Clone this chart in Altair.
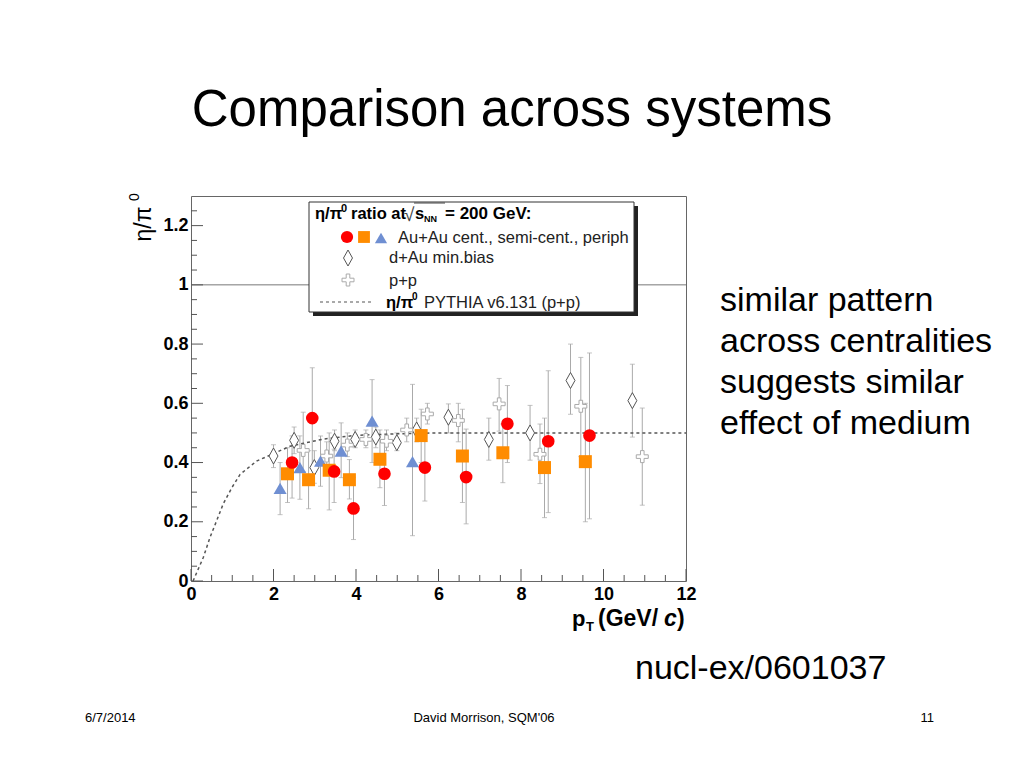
import altair as alt
import pandas as pd

# ---------------- data ----------------
# Au+Au central (red circles)
cent_x  = [2.45, 2.94, 3.47, 3.94, 4.69, 5.67, 6.67, 7.67, 8.66, 9.66]
cent_y  = [0.40, 0.55, 0.37, 0.245, 0.362, 0.383, 0.351, 0.531, 0.472, 0.491]
cent_lo = [0.28, 0.38, 0.265, 0.14, 0.255, 0.27, 0.193, 0.40, 0.231, 0.21]
cent_hi = [0.49, 0.72, 0.445, 0.35, 0.47, 0.50, 0.513, 0.66, 0.71, 0.77]

# Au+Au semi-central (orange squares)
semi_x  = [2.34, 2.85, 3.35, 3.84, 4.58, 5.58, 6.58, 7.56, 8.57, 9.56]
semi_y  = [0.362, 0.342, 0.374, 0.342, 0.411, 0.491, 0.422, 0.433, 0.383, 0.403]
semi_lo = [0.265, 0.244, 0.24, 0.277, 0.315, 0.40, 0.265, 0.332, 0.214, 0.20]
semi_hi = [0.45, 0.44, 0.50, 0.41, 0.51, 0.58, 0.58, 0.53, 0.55, 0.60]

# Au+Au peripheral (blue triangles)
peri_x  = [2.16, 2.64, 3.14, 3.64, 4.39, 5.37]
peri_y  = [0.313, 0.383, 0.405, 0.439, 0.54, 0.403]
peri_lo = [0.224, 0.276, 0.32, 0.349, 0.40, 0.153]
peri_hi = [0.40, 0.49, 0.49, 0.534, 0.68, 0.664]

# d+Au min.bias (open diamonds)
dau_x  = [2.0, 2.5, 2.99, 3.48, 3.98, 4.48, 4.99, 5.47, 6.24, 7.22, 8.22, 9.2, 10.7]
dau_y  = [0.422, 0.475, 0.383, 0.472, 0.478, 0.486, 0.467, 0.51, 0.553, 0.478, 0.50, 0.677, 0.609]
dau_lo = [0.383, 0.43, 0.33, 0.44, 0.45, 0.45, 0.44, 0.47, 0.50, 0.408, 0.408, 0.563, 0.486]
dau_hi = [0.46, 0.52, 0.44, 0.51, 0.51, 0.52, 0.50, 0.55, 0.598, 0.55, 0.593, 0.80, 0.732]

# p+p (open crosses)
pp_x  = [2.72, 3.29, 3.79, 4.24, 4.74, 5.23, 5.73, 6.48, 7.47, 8.46, 9.45, 10.94]
pp_y  = [0.441, 0.422, 0.459, 0.478, 0.472, 0.51, 0.564, 0.542, 0.598, 0.428, 0.59, 0.42]
pp_lo = [0.37, 0.37, 0.42, 0.45, 0.44, 0.47, 0.53, 0.47, 0.506, 0.329, 0.42, 0.256]
pp_hi = [0.57, 0.47, 0.50, 0.51, 0.51, 0.55, 0.60, 0.60, 0.684, 0.53, 0.755, 0.584]

# PYTHIA curve (dashed)
py_x = [0.05, 0.3, 0.46, 0.62, 0.78, 0.99, 1.19, 1.59, 2.0, 2.4, 3.2, 4.0, 5.0, 6.0, 8.0, 10.0, 12.0]
py_y = [0.0, 0.08, 0.147, 0.203, 0.26, 0.315, 0.36, 0.405, 0.43, 0.455, 0.479, 0.492, 0.497, 0.5, 0.5, 0.5, 0.5]

x_major = [0, 2, 4, 6, 8, 10, 12]
x_minor = [0.5, 1, 1.5, 2.5, 3, 3.5, 4.5, 5, 5.5, 6.5, 7, 7.5, 8.5, 9, 9.5, 10.5, 11, 11.5]
y_major = [0, 0.2, 0.4, 0.6, 0.8, 1.0, 1.2]
y_minor = [0.05, 0.1, 0.15, 0.25, 0.3, 0.35, 0.45, 0.5, 0.55, 0.65, 0.7, 0.75,
           0.85, 0.9, 0.95, 1.05, 1.1, 1.15, 1.25]
ref_line = [1.0]

# ---------------- layout ----------------
FONT = "Liberation Sans"
OX, OY = 191, 196          # page position of plot origin
W, H = 495, 385

RED, ORANGE, BLUE = "#ff0000", "#ff8c00", "#6f8fd2"
DIAMOND = "M0,-1L0.56,0L0,1L-0.56,0Z"
CROSS = "M-0.3,-1H0.3V-0.3H1V0.3H0.3V1H-0.3V0.3H-1V-0.3H-0.3Z"

xs = alt.Scale(domain=[0, 12], nice=False, zero=False)
ys = alt.Scale(domain=[0, 1.3], nice=False, zero=False)


def frame(xv, yv, lo, hi):
    return pd.DataFrame({"x": xv, "y": yv, "lo": lo, "hi": hi})


series = [frame(cent_x, cent_y, cent_lo, cent_hi),
          frame(semi_x, semi_y, semi_lo, semi_hi),
          frame(peri_x, peri_y, peri_lo, peri_hi),
          frame(dau_x, dau_y, dau_lo, dau_hi),
          frame(pp_x, pp_y, pp_lo, pp_hi)]
allerr = pd.concat(series, ignore_index=True)

dummy = pd.DataFrame({"a": [0]})

layers = []

# axes (labels only) - first layer carries the axes
layers.append(alt.Chart(dummy).mark_point(opacity=0).encode(
    x=alt.X("a:Q", scale=xs, axis=alt.Axis(values=x_major, format="~g", tickSize=0, domain=False,
                                            grid=False, title=None, labelFont=FONT, labelFontSize=18,
                                            labelFontWeight="bold", labelColor="black", labelPadding=4,
                                            labelFlush=False)),
    y=alt.Y("a:Q", scale=ys, axis=alt.Axis(values=y_major, format="~g", tickSize=0, domain=False,
                                            grid=False, title=None, labelFont=FONT, labelFontSize=18,
                                            labelFontWeight="bold", labelColor="black", labelPadding=3))))

# y = 1 reference line
layers.append(alt.Chart(pd.DataFrame({"v": ref_line})).mark_rule(color="#777", strokeWidth=1).encode(
    y=alt.Y("v:Q", scale=ys)))

# ticks (inside the frame)
def xticks(vals, length):
    return alt.Chart(pd.DataFrame({"v": vals})).mark_rule(color="#555", strokeWidth=1).encode(
        x=alt.X("v:Q", scale=xs), y=alt.value(H), y2=alt.value(H - length))

def yticks(vals, length):
    return alt.Chart(pd.DataFrame({"v": vals})).mark_rule(color="#555", strokeWidth=1).encode(
        y=alt.Y("v:Q", scale=ys), x=alt.value(0), x2=alt.value(length))

layers += [xticks(x_major, 12), xticks(x_minor, 6), yticks(y_major, 12), yticks(y_minor, 6)]

# error bars
err_base = alt.Chart(allerr)
layers.append(err_base.mark_rule(color="#aaaaaa", strokeWidth=1).encode(
    x=alt.X("x:Q", scale=xs), y=alt.Y("lo:Q", scale=ys), y2="hi:Q"))
layers.append(err_base.mark_tick(color="#aaaaaa", orient="horizontal", size=5, thickness=1).encode(
    x=alt.X("x:Q", scale=xs), y=alt.Y("lo:Q", scale=ys)))
layers.append(err_base.mark_tick(color="#aaaaaa", orient="horizontal", size=5, thickness=1).encode(
    x=alt.X("x:Q", scale=xs), y=alt.Y("hi:Q", scale=ys)))

# PYTHIA curve
layers.append(alt.Chart(pd.DataFrame({"x": py_x, "y": py_y})).mark_line(
    color="#555", strokeWidth=1.5, strokeDash=[3, 3]).encode(
    x=alt.X("x:Q", scale=xs), y=alt.Y("y:Q", scale=ys)))

# markers
def pts(df, **kw):
    return alt.Chart(df).mark_point(**kw).encode(
        x=alt.X("x:Q", scale=xs), y=alt.Y("y:Q", scale=ys))

layers.append(pts(series[3], shape=DIAMOND, size=256, filled=True, fill="white",
                  stroke="#555", strokeWidth=1, opacity=1))
layers.append(pts(series[4], shape=CROSS, size=144, filled=True, fill="white",
                  stroke="#aaa", strokeWidth=1, opacity=1))
layers.append(pts(series[2], shape="triangle-up", size=170, filled=True, color=BLUE, opacity=1))
layers.append(pts(series[1], shape="square", size=169, filled=True, color=ORANGE, opacity=1))
layers.append(pts(series[0], shape="circle", size=160, filled=True, color=RED, opacity=1))


# ---------------- helpers for annotation ----------------
def T(s, px, py, size, weight="normal", align="left", color="black", italic=False, angle=0,
      baseline="alphabetic", font=FONT):
    return alt.Chart(dummy).mark_text(text=s, fontSize=size, fontWeight=weight, align=align,
                                      baseline=baseline, color=color, font=font,
                                      fontStyle="italic" if italic else "normal",
                                      angle=angle).encode(
        x=alt.value(px - OX), y=alt.value(py - OY))


def R(x1, y1, x2, y2, fill):
    return alt.Chart(dummy).mark_rect(fill=fill).encode(
        x=alt.value(x1 - OX), x2=alt.value(x2 - OX), y=alt.value(y1 - OY), y2=alt.value(y2 - OY))


def P(px, py, **kw):
    return alt.Chart(dummy).mark_point(opacity=1, **kw).encode(
        x=alt.value(px - OX), y=alt.value(py - OY))


def L(x1, y1, x2, y2, **kw):
    return alt.Chart(dummy).mark_rule(**kw).encode(
        x=alt.value(x1 - OX), x2=alt.value(x2 - OX), y=alt.value(y1 - OY), y2=alt.value(y2 - OY))


# legend box with shadow
layers.append(R(313, 206, 638, 316, "#222"))
layers.append(R(309, 202, 634, 312, "white"))
layers.append(L(309, 202, 634, 202, color="#333", strokeWidth=1))
layers.append(L(309, 312, 634, 312, color="#333", strokeWidth=1))
layers.append(L(309, 202, 309, 312, color="#333", strokeWidth=1))
layers.append(L(634, 202, 634, 312, color="#333", strokeWidth=1))

# legend title
layers.append(T("η/π", 315, 219, 16.5, weight="bold"))
layers.append(T("0", 341, 212, 11, weight="bold"))
layers.append(T("ratio at", 351, 219, 16.5, weight="bold"))
layers.append(T("√", 404, 221, 19, color="#444"))
layers.append(L(414, 203, 445, 203, color="#444", strokeWidth=1))
layers.append(T("s", 415, 219, 16.5, weight="bold"))
layers.append(T("NN", 424, 222, 9, weight="bold"))
layers.append(T("= 200 GeV:", 445, 219, 17, weight="bold"))

# legend rows
layers.append(P(347, 237, shape="circle", size=150, filled=True, color=RED))
layers.append(P(364, 237, shape="square", size=140, filled=True, color=ORANGE))
layers.append(P(381, 238, shape="triangle-up", size=150, filled=True, color=BLUE))
layers.append(T("Au+Au cent., semi-cent., periph", 398, 243, 16.5, color="#222"))
layers.append(P(348, 258, shape=DIAMOND, size=256, filled=True, fill="white", stroke="#555", strokeWidth=1))
layers.append(T("d+Au min.bias", 389, 263, 16.5, color="#222"))
layers.append(P(348, 280, shape=CROSS, size=144, filled=True, fill="white", stroke="#aaa", strokeWidth=1))
layers.append(T("p+p", 389, 286, 16.5, color="#222"))
layers.append(L(320, 302, 371, 302, color="#555", strokeWidth=1.2, strokeDash=[3, 3]))
layers.append(T("η/π", 386, 308, 16.5, weight="bold"))
layers.append(T("0", 412, 300, 10, weight="bold"))
layers.append(T("PYTHIA v6.131 (p+p)", 424, 308, 16.5, color="#222"))

# axis titles
layers.append(T("η/π", 151, 224, 23, angle=270, align="center"))
layers.append(T("0", 139, 197, 14, angle=270, align="center"))
layers.append(T("p", 572, 626, 22, weight="bold"))
layers.append(T("T", 586, 631, 13, weight="bold"))
layers.append(T("(GeV/", 598, 626, 23, weight="bold"))
layers.append(T("c", 664, 626, 23, weight="bold", italic=True))
layers.append(T(")", 677, 626, 23, weight="bold"))

# slide texts
layers.append(T("Comparison across systems", 512, 126, 51, align="center"))
for i, line in enumerate(["similar pattern", "across centralities",
                          "suggests similar", "effect of medium"]):
    layers.append(T(line, 720, 311 + 41 * i, 34))
layers.append(T("nucl-ex/0601037", 635, 679, 34))
layers.append(T("6/7/2014", 85, 722, 13))
layers.append(T("David Morrison, SQM'06", 484, 722, 13, align="center"))
layers.append(T("11", 934, 722, 13, align="right"))

chart = alt.layer(*layers).properties(
    width=W, height=H,
    padding={"left": OX - 8, "top": OY - 8, "right": 1008 - (OX - 8) - W, "bottom": 745 - (OY - 8) - H},
    autosize=alt.AutoSizeParams(type="none"),
    background="white",
).configure_view(stroke="#666", strokeWidth=1)

chart.save("out.html", embed_options={"renderer": "svg", "actions": False})
